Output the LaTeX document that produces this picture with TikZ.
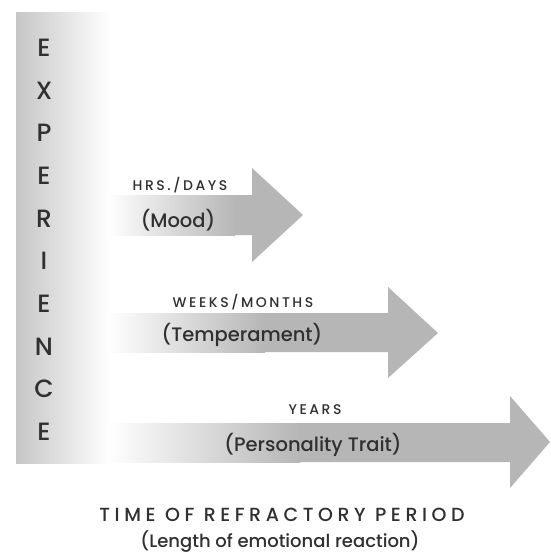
\documentclass[tikz,border=0pt]{standalone}
\usepackage{fontspec}
\usepackage{xcolor}
\usepackage{tikz}
\setmainfont{Poppins}[UprightFont=* Medium]
\definecolor{inkgray}{HTML}{303030}
\definecolor{arrowgray}{HTML}{B6B6B6}
\definecolor{bargray}{HTML}{C6C6C6}

\begin{document}
\begin{tikzpicture}[x=1pt, y=-1pt,
    bartext/.style={text=inkgray, font=\fontsize{25}{25}\selectfont},
    tag/.style={text=inkgray, font=\fontsize{14}{15}\selectfont\addfontfeatures{LetterSpace=18}},
    label/.style={text=inkgray, font=\fontsize{19.5}{20}\selectfont},
    arrowbody/.style={fill=arrowgray}]
			\fill[white] (0,0) rectangle (550,557);
			\useasboundingbox (0,0) rectangle (550,557);
			% Experience bar
			\shade[left color=bargray, right color=white] (16,12) rectangle (110,463);
			\node[bartext] (b1) at (44,48) {E};
			\node[bartext] (b2) at (44,91) {X};
			\node[bartext] (b3) at (44,133) {P};
			\node[bartext] (b4) at (44,176) {E};
			\node[bartext] (b5) at (44,219) {R};
			\node[bartext] (b6) at (44,261) {I};
			\node[bartext] (b7) at (44,304) {E};
			\node[bartext] (b8) at (44,347) {N};
			\node[bartext] (b9) at (44,389) {C};
			\node[bartext] (b10) at (44,432) {E};
			% Arrows
			\fill[arrowbody] (108,195) -- (252,195) -- (252,168) -- (303,215) -- (252,262) -- (252,235) -- (108,235) -- cycle;
			\shade[left color=white, right color=arrowgray] (108,195) rectangle (235,235);
			\fill[arrowbody] (108,313) -- (388,313) -- (388,287) -- (438,333) -- (388,378) -- (388,352) -- (108,352) -- cycle;
			\shade[left color=white, right color=arrowgray] (108,313) rectangle (265,352);
			\fill[arrowbody] (108,423) -- (510,423) -- (510,396) -- (550,442) -- (510,488) -- (510,462) -- (108,462) -- cycle;
			\shade[left color=white, right color=arrowgray] (108,423) rectangle (300,462);
			% Labels
			\node[tag] (hrs) at (180,185) {HRS./DAYS};
			\node[label] (mood) at (178,220) {(Mood)};
			\node[tag] (weeks) at (243,302) {WEEKS/MONTHS};
			\node[label] (temper) at (242,335) {(Temperament)};
			\node[tag] (years) at (315,410) {YEARS};
			\node[label] (trait) at (313,445) {(Personality Trait)};
			% Axis title
			\node[text=inkgray, font=\fontsize{19}{20}\selectfont\addfontfeatures{LetterSpace=24}] (time) at (282,515) {TIME OF REFRACTORY PERIOD};
			\node[text=inkgray, font=\fontsize{18}{18}\selectfont] (length) at (280,542) {(Length of emotional reaction)};
		\end{tikzpicture}
\end{document}
